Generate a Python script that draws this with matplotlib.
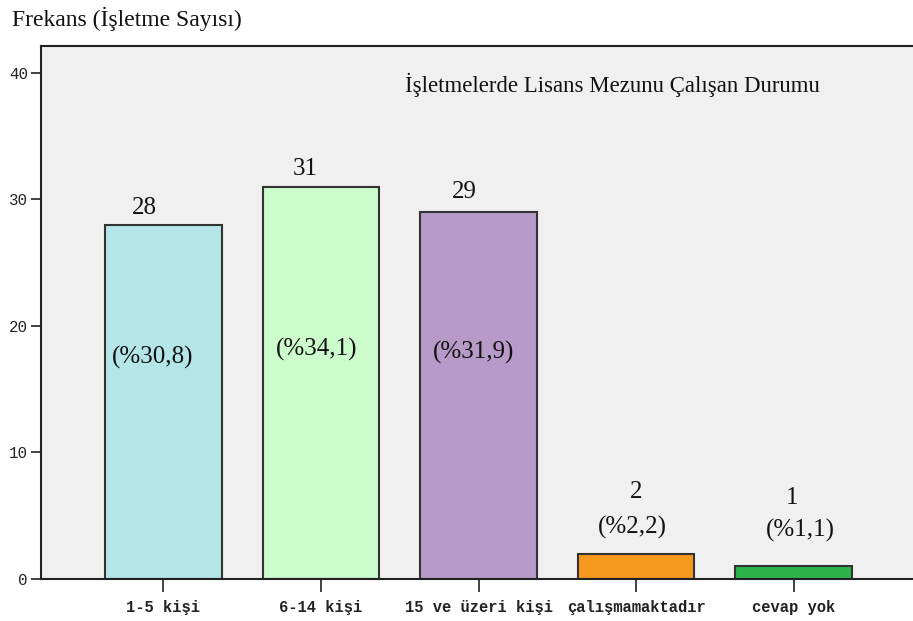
import matplotlib
matplotlib.use("Agg")
import matplotlib.pyplot as plt

categories = ["1-5 kişi", "6-14 kişi", "15 ve üzeri kişi", "çalışmamaktadır", "cevap yok"]
counts = [28, 31, 29, 2, 1]
percent_labels = ["(%30,8)", "(%34,1)", "(%31,9)", "(%2,2)", "(%1,1)"]
bar_colors = ["#b4e6e8", "#ccfccc", "#b89ac8", "#f7981f", "#2cb44a"]
yticks = [0, 10, 20, 30, 40]

title = "İşletmelerde Lisans Mezunu Çalışan Durumu"
ylabel = "Frekans (İşletme Sayısı)"

# label placement (layout, not data)
count_dx = [-0.124, -0.10, -0.09, 0.0, -0.01]
count_dy = [1.33, 1.41, 1.59, 4.88, 5.40]
pct_dx = [-0.07, -0.025, -0.03, -0.025, 0.04]
pct_y = [17.55, 18.18, 17.94, 4.11, 3.87]

fig = plt.figure(figsize=(9.13, 6.21), dpi=100)
ax = fig.add_axes([41/913, 42/621, 875/913, 533/621])
ax.set_facecolor("#f0f0f0")

x = list(range(len(categories)))
ax.bar(x, counts, width=0.74, color=bar_colors, edgecolor="#333333", linewidth=1.5, zorder=2)

serif = "Liberation Serif"
for i, (c, p) in enumerate(zip(counts, percent_labels)):
    ax.text(i + count_dx[i], c + count_dy[i], str(c), ha="center", va="center",
            fontsize=18, family=serif, color="#111111")
    ax.text(i + pct_dx[i], pct_y[i], p, ha="center", va="center",
            fontsize=18, family=serif, color="#111111")

ax.set_xlim(-0.777, 4.777)
ax.set_ylim(0, 42.13)
ax.set_xticks(x)
ax.set_xticklabels(categories, family="Liberation Mono", fontsize=11.2, fontweight="bold",
                   color="#222222")
ax.set_yticks(yticks)
ax.set_yticklabels([str(t) for t in yticks], family="Liberation Mono", fontsize=11.3,
                   color="#222222")
ax.tick_params(axis="x", length=9, width=1.3, pad=6, color="#333333")
ax.tick_params(axis="y", length=7.5, width=1.3, pad=2, color="#333333")

for side in ["left", "top", "bottom"]:
    ax.spines[side].set_linewidth(1.5)
    ax.spines[side].set_color("#222222")
ax.spines["right"].set_visible(False)

ax.text(0.416, 0.927, title, transform=ax.transAxes, ha="left", va="center",
        fontsize=16.4, family=serif, color="#111111")
fig.text(12/913, 1 - 19/621, ylabel, ha="left", va="center",
         fontsize=17, family=serif, color="#111111")

fig.savefig("out.png", dpi=100)
